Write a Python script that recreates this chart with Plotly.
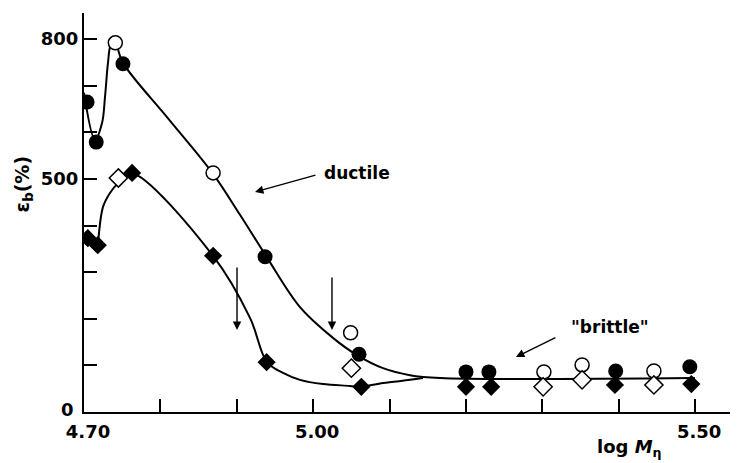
import plotly.graph_objects as go

# Elongation at break vs. log molecular weight
# filled circles / open circles: upper series, filled / open diamonds: lower series
circ_filled_x = [4.704, 4.716, 4.751, 4.937, 5.060, 5.200, 5.230, 5.396, 5.493]
circ_filled_y = [665, 579, 747, 333, 124, 86, 86, 88, 97]
circ_open_x = [4.741, 4.869, 5.049, 5.302, 5.352, 5.446]
circ_open_y = [792, 513, 170, 86, 101, 88]
diam_filled_x = [4.705, 4.718, 4.763, 4.869, 4.939, 5.063, 5.200, 5.233, 5.395, 5.495]
diam_filled_y = [373, 358, 513, 335, 107, 54, 54, 54, 58, 60]
diam_open_x = [4.745, 5.050, 5.301, 5.352, 5.446]
diam_open_y = [502, 94, 54, 69, 58]

# hand-drawn trend curves (guide points)
upper_curve_x = [4.700, 4.7144, 4.7236, 4.7275, 4.7314, 4.7353, 4.7406, 4.751,
                 4.810, 4.8689, 4.9042, 4.9382, 4.9827, 5.0259, 5.0573, 5.0914,
                 5.1267, 5.166, 5.4997]
upper_curve_y = [685, 584, 620, 676, 749, 788, 792, 749,
                 630, 511, 423, 335, 225, 159, 122, 94,
                 79, 73, 73]
lower_curve_x = [4.7183, 4.7249, 4.734, 4.7445, 4.7615, 4.8689, 4.9173, 4.9395,
                 4.9605, 4.9827, 5.0128, 5.0482, 5.0613, 5.0914, 5.1267, 5.1437]
lower_curve_y = [358, 440, 470, 491, 513, 335, 202, 107,
                 84, 69, 60, 56, 54, 62, 69, 73]

x_ticks = [4.7, 4.8, 4.9, 5.0, 5.1, 5.2, 5.3, 5.4, 5.5]
x_ticktext = ["4.70", "", "", "5.00", "", "", "", "", "5.50"]
y_ticks = [0, 100, 200, 300, 400, 500, 600, 700, 800]
y_ticktext = ["", "", "", "", "", "500", "", "", "800"]
y_zero_label = "0"

FONT = "DejaVu Sans"
BOLD19 = dict(family=FONT, size=19, color="black", weight="bold")
BOLD18 = dict(family=FONT, size=18, color="black", weight="bold")
BOLD17 = dict(family=FONT, size=17, color="black", weight="bold")

fig = go.Figure()

for cx, cy in [(upper_curve_x, upper_curve_y), (lower_curve_x, lower_curve_y)]:
    fig.add_trace(go.Scatter(x=cx, y=cy, mode="lines",
                             line=dict(color="black", width=2, shape="spline", smoothing=1.0),
                             hoverinfo="skip"))

fig.add_trace(go.Scatter(x=circ_open_x, y=circ_open_y, mode="markers",
                         marker=dict(symbol="circle", size=14, color="white",
                                     line=dict(color="black", width=1.5))))
fig.add_trace(go.Scatter(x=circ_filled_x, y=circ_filled_y, mode="markers",
                         marker=dict(symbol="circle", size=15, color="black",
                                     line=dict(color="black", width=0))))
fig.add_trace(go.Scatter(x=diam_open_x, y=diam_open_y, mode="markers",
                         marker=dict(symbol="diamond", size=14, color="white",
                                     line=dict(color="black", width=1.5))))
fig.add_trace(go.Scatter(x=diam_filled_x, y=diam_filled_y, mode="markers",
                         marker=dict(symbol="diamond", size=14, color="black",
                                     line=dict(color="black", width=0))))

arrow = dict(showarrow=True, text="", arrowhead=2, arrowsize=1.2, arrowwidth=1.4,
             arrowcolor="black", axref="x", ayref="y", xref="x", yref="y")
annotations = [
    dict(x=4.9238, y=472, ax=5.005, ay=509, **arrow),
    dict(x=4.9003, y=176, ax=4.9003, ay=313, **arrow),
    dict(x=5.0246, y=176, ax=5.0246, ay=292, **arrow),
    dict(x=5.2654, y=118, ax=5.319, ay=161, **arrow),
    dict(x=5.057, y=513, text="ductile", showarrow=False, xref="x", yref="y",
         xanchor="center", yanchor="middle", font=BOLD17),
    dict(x=5.3885, y=182, text="\"brittle\"", showarrow=False, xref="x", yref="y",
         xanchor="center", yanchor="middle", font=BOLD17),
    dict(x=-0.094, y=0.571, xref="paper", yref="paper", text="ε<sub>b</sub>(%)",
         showarrow=False, textangle=-90, xanchor="center", yanchor="middle", font=BOLD19),
    dict(x=0.845, y=-0.09, xref="paper", yref="paper", text="log <i>M</i><sub>η</sub>",
         showarrow=False, xanchor="center", yanchor="middle", font=BOLD18),
    # zero label of the strain axis, set a little left of the other tick labels
    dict(x=-0.012, y=5, xref="paper", yref="y", text=y_zero_label, showarrow=False,
         xanchor="right", yanchor="middle", font=BOLD18),
]

fig.update_layout(
    width=737, height=463,
    margin=dict(l=84, r=7, t=13, b=51),
    paper_bgcolor="white", plot_bgcolor="white",
    showlegend=False,
    annotations=annotations,
    font=dict(family=FONT, size=18, color="black"),
)
fig.update_xaxes(range=[4.70, 5.5456], tickvals=x_ticks, ticktext=x_ticktext,
                 ticks="inside", ticklen=13, tickwidth=2, tickcolor="black",
                 ticklabelshift=4, ticklabelstandoff=2,
                 showline=True, linecolor="black", linewidth=2, showgrid=False,
                 zeroline=False, tickfont=BOLD18)
fig.update_yaxes(range=[0, 856], tickvals=y_ticks, ticktext=y_ticktext,
                 ticks="inside", ticklen=13, tickwidth=2, tickcolor="black",
                 showline=True, linecolor="black", linewidth=2, showgrid=False,
                 zeroline=False, tickfont=BOLD18)

fig.write_html("out.html")
